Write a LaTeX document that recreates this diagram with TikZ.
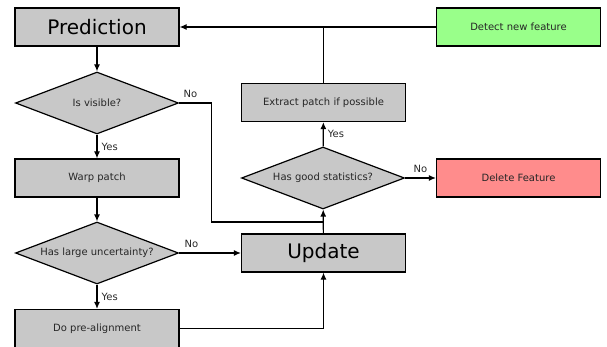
\documentclass[tikz,border=0pt]{standalone}
\usepackage{fontspec}
\setmainfont{DejaVu Sans}
\usetikzlibrary{shapes.geometric,arrows.meta}
\definecolor{boxgray}{RGB}{200,200,200}
\definecolor{detgreen}{RGB}{153,255,138}
\definecolor{delred}{RGB}{255,140,140}

\begin{document}
\begin{tikzpicture}[x=1pt,y=1pt]
\tikzstyle{every node}+=[inner sep=0pt,font=\fontsize{10}{12}\selectfont,text=black!85]
\tikzstyle{box}=[draw,line width=1.2pt,fill=boxgray,minimum width=164,minimum height=38]
\tikzstyle{bigbox}=[box,text=black,font=\fontsize{20}{24}\selectfont]
\tikzstyle{decision}=[diamond,draw,line width=1.2pt,fill=boxgray,aspect=2.6,minimum width=163,minimum height=62]
\tikzstyle{line}=[line width=1.2pt]
\tikzstyle{arr}=[line,-{Latex[length=7pt,width=6pt]}]
\useasboundingbox (0,0) rectangle (607,-347);
\node[bigbox] (pred) at (97,-27) {Prediction};
\node[decision] (vis) at (97,-103) {Is visible?};
\node[box] (warp) at (97,-178) {Warp patch};
\node[decision] (unc) at (97,-253) {Has large uncertainty?};
\node[box] (pre) at (97,-328.5) {Do pre-alignment};
\node[bigbox] (upd) at (323.5,-253) {Update};
\node[decision] (stat) at (323,-178) {Has good statistics?};
\node[box] (extr) at (323.5,-102.5) {Extract patch if possible};
\node[box,fill=detgreen] (det) at (518.5,-27) {Detect new feature};
\node[box,fill=delred] (del) at (518.5,-178) {Delete Feature};
\coordinate (jn) at (upd.north |- 0,-222);
\draw[arr] (pred) -- (vis);
\draw[arr] (vis) -- node[right=4pt] {Yes} (warp);
\draw[arr] (warp) -- (unc);
\draw[arr] (unc) -- node[right=4pt] {Yes} (pre);
\draw[arr] (unc) -- node[pos=0.2,above=5pt] {No} (upd);
\draw[arr] (pre.east) -| (upd.south);
\draw[line] (vis.east) node[anchor=south west,xshift=4pt,yshift=5pt] {No} -- ++(32,0) |- (jn);
\draw[arr] (upd) -- (stat);
\draw[arr] (stat) -- node[right=4pt] {Yes} (extr);
\draw[arr] (stat) -- node[above=5pt] {No} (del);
\draw[line] (extr.north) -- (extr.north |- det.west);
\draw[arr] (det.west) -- (pred.east);
\end{tikzpicture}
\end{document}
